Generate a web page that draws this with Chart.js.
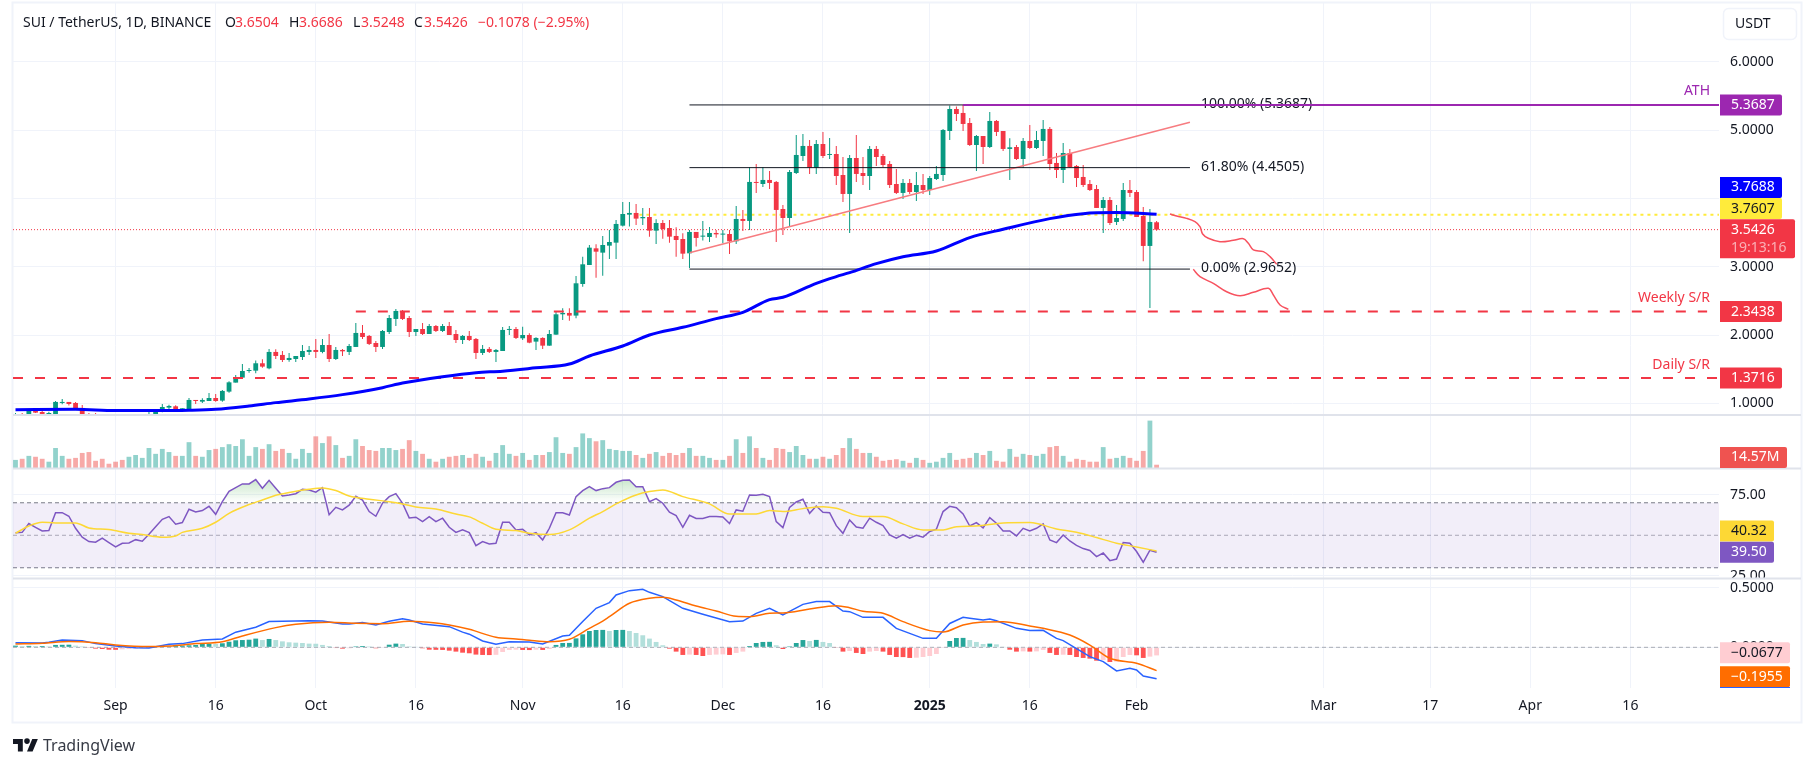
<!DOCTYPE html>
<html>
<head>
<meta charset="utf-8">
<title>SUI / TetherUS</title>
<script src="https://cdn.jsdelivr.net/npm/chart.js@4"></script>
<style>
  html, body { margin: 0; background: #fff; }
  canvas { display: block; }
</style>
</head>
<body>
<canvas id="chart" width="1814" height="767"></canvas>
<script>
// Days are counted from 1 Sep 2024 (day 0). First candle is day -15, one candle per day.
const firstDay = -15;

const opens = [
  0.80,0.82,0.82,0.907,0.873,0.83,0.82,1.005,1.02,1.005,
  0.932,0.82,0.82,0.79,0.77,0.76,0.75,0.74,0.76,0.78,
  0.82,0.83,0.873,0.937,0.956,0.907,0.912,1.049,1.024,1.034,
  1.078,1.039,1.171,1.303,1.376,1.473,1.478,1.586,1.512,1.752,
  1.708,1.634,1.649,1.678,1.752,1.781,1.752,1.854,1.649,1.781,
  1.752,1.825,2.03,1.986,1.883,1.825,2.044,2.235,2.352,2.249,
  2.044,2.088,2.015,2.132,2.059,2.132,2.015,1.927,1.986,1.942,
  1.737,1.796,1.752,1.766,2.074,2.088,1.952,2.0,1.903,1.957,
  1.844,2.005,2.303,2.323,2.284,2.747,3.025,3.269,3.206,3.308,
  3.352,3.601,3.762,3.787,3.709,3.728,3.528,3.64,3.567,3.45,
  3.406,3.196,3.509,3.44,3.435,3.494,3.47,3.479,3.372,3.699,
  3.67,4.241,4.211,4.27,4.241,3.845,3.713,4.372,4.621,4.768,
  4.45,4.797,4.636,4.65,4.343,4.065,4.592,4.372,4.328,4.724,
  4.621,4.504,4.211,4.08,4.226,4.094,4.196,4.123,4.284,4.343,
  4.987,5.309,5.251,5.104,4.782,4.914,4.753,5.134,4.987,4.724,
  4.753,4.577,4.841,4.738,4.841,5.017,4.519,4.416,4.665,4.475,
  4.314,4.211,4.138,3.86,3.977,3.655,3.699,4.123,4.094,3.743,
  3.304,3.6504
];
const highs = [
  0.858,0.858,0.917,0.932,0.893,0.878,1.034,1.063,1.02,1.02,
  0.976,0.858,0.858,0.81,0.80,0.79,0.79,0.78,0.80,0.81,
  0.888,0.917,0.99,0.98,0.971,0.927,1.078,1.049,1.073,1.151,
  1.137,1.195,1.322,1.415,1.576,1.517,1.625,1.644,1.795,1.791,
  1.766,1.737,1.693,1.854,1.839,1.942,1.942,2.015,1.825,1.796,
  1.869,2.176,2.147,2.0,1.913,2.074,2.293,2.381,2.367,2.279,
  2.088,2.176,2.161,2.147,2.161,2.191,2.074,2.0,2.059,1.957,
  1.854,1.825,1.796,2.118,2.132,2.118,2.122,2.025,1.966,1.966,
  2.074,2.342,2.391,2.391,2.864,3.147,3.318,3.328,3.45,3.538,
  3.684,3.948,3.948,3.918,3.86,3.86,3.694,3.684,3.684,3.577,
  3.489,3.538,3.509,3.67,3.582,3.538,3.538,3.538,3.889,3.831,
  4.455,4.504,4.46,4.402,4.255,3.904,4.416,4.929,4.943,4.856,
  4.856,4.973,4.885,4.768,4.606,4.636,4.929,4.606,4.768,4.768,
  4.65,4.548,4.431,4.284,4.284,4.387,4.358,4.328,4.475,5.017,
  5.36,5.344,5.3687,5.178,4.929,4.914,5.265,5.148,4.987,4.88,
  4.782,4.885,5.075,4.987,5.148,5.046,4.665,4.811,4.724,4.489,
  4.489,4.27,4.196,4.021,4.021,3.904,4.226,4.27,4.123,3.875,
  3.845,3.6686
];
const lows = [
  0.79,0.79,0.80,0.858,0.83,0.82,0.81,0.985,0.966,0.912,
  0.80,0.79,0.78,0.75,0.74,0.73,0.72,0.72,0.74,0.75,
  0.81,0.81,0.868,0.917,0.902,0.873,0.907,0.99,1.005,1.034,
  1.024,1.024,1.156,1.303,1.376,1.449,1.439,1.522,1.498,1.649,
  1.605,1.61,1.605,1.634,1.708,1.664,1.732,1.605,1.634,1.693,
  1.708,1.825,1.942,1.854,1.752,1.796,2.015,2.132,2.22,1.971,
  1.986,2.0,2.015,2.044,2.044,2.0,1.883,1.869,1.913,1.649,
  1.708,1.737,1.605,1.766,2.0,1.942,1.927,1.878,1.781,1.796,
  1.844,2.005,2.22,2.21,2.245,2.708,3.025,2.84,2.869,3.113,
  3.113,3.587,3.587,3.611,3.611,3.44,3.333,3.411,3.352,3.147,
  3.113,2.981,3.294,3.382,3.362,3.425,3.343,3.186,3.333,3.523,
  3.538,4.08,4.167,4.138,3.362,3.465,3.582,4.358,4.548,4.358,
  4.358,4.592,4.577,4.196,3.948,3.494,4.241,4.196,4.123,4.475,
  4.46,4.152,4.065,3.992,4.065,3.962,4.065,4.05,4.27,4.255,
  4.855,5.134,4.987,4.768,4.402,4.504,4.738,4.914,4.694,4.27,
  4.563,4.445,4.724,4.724,4.621,4.416,4.299,4.226,4.445,4.167,
  4.167,4.108,3.86,3.494,3.611,3.611,3.67,4.021,3.728,3.079,
  2.396,3.5248
];
const closes = [
  0.81,0.80,0.898,0.863,0.844,0.858,1.02,1.02,0.99,0.917,
  0.82,0.80,0.79,0.77,0.76,0.75,0.74,0.76,0.78,0.79,
  0.84,0.893,0.946,0.961,0.902,0.927,1.049,1.034,1.049,1.078,
  1.034,1.181,1.307,1.381,1.473,1.488,1.586,1.537,1.752,1.693,
  1.634,1.664,1.693,1.766,1.781,1.752,1.854,1.649,1.781,1.761,
  1.839,2.03,1.971,1.869,1.825,2.059,2.249,2.352,2.235,2.044,
  2.088,2.015,2.132,2.059,2.132,2.0,1.927,1.986,1.927,1.737,
  1.796,1.752,1.781,2.074,2.088,1.957,2.0,1.888,1.957,1.844,
  2.015,2.303,2.323,2.284,2.757,3.035,3.279,3.22,3.318,3.362,
  3.626,3.772,3.787,3.704,3.728,3.528,3.64,3.552,3.44,3.391,
  3.191,3.509,3.421,3.455,3.494,3.474,3.479,3.372,3.699,3.67,
  4.241,4.226,4.27,4.226,3.831,3.713,4.387,4.636,4.768,4.45,
  4.797,4.621,4.65,4.328,4.065,4.592,4.358,4.328,4.724,4.606,
  4.489,4.196,4.08,4.226,4.094,4.196,4.123,4.299,4.358,5.002,
  5.309,5.236,5.09,4.782,4.914,4.753,5.134,4.973,4.724,4.748,
  4.577,4.841,4.738,4.855,5.017,4.504,4.416,4.665,4.46,4.299,
  4.196,4.123,3.86,3.977,3.64,3.713,4.123,4.08,3.728,3.304,
  3.655,3.5426
];
// volume in millions
const volumes = [
  36,41,54,50,41,28,89,54,41,45,67,71,32,41,19,28,36,50,58,45,
  89,63,85,71,54,54,115,54,50,80,85,93,106,98,128,54,93,85,106,76,
  85,67,41,85,67,141,111,141,102,45,54,128,98,80,76,89,89,80,85,124,
  76,63,41,28,41,50,54,58,45,63,50,32,67,102,63,54,67,36,58,58,
  71,137,67,63,93,154,133,119,124,85,80,76,76,58,45,63,71,54,67,58,
  67,89,54,54,45,36,36,54,128,67,141,89,45,36,89,85,71,98,58,41,
  41,50,41,58,89,133,85,67,67,50,32,36,39,32,23,45,36,23,28,45,
  67,36,41,45,67,58,76,32,28,85,50,63,58,54,63,93,98,54,28,41,
  36,28,28,93,41,45,54,45,32,76,211,14.57
];
const rsiValues = [
  51.6,51.8,57.2,54.9,52.7,52.9,63.9,63.9,61.7,54.3,48.8,46.1,45.7,48.2,45.5,42.8,45.1,45.3,47.3,46.3,
  50.6,55.3,59.8,61.5,56.8,57.8,66,64.4,65.2,67.8,62.9,70.7,77.1,79.3,81.6,81.6,84.3,78.9,83.8,78.9,
  74.2,74.8,75.6,78.3,77.9,76.5,79.3,62.7,67.2,65.6,68.5,74,71.7,64.6,61.7,69.7,73.8,75.6,69.7,60.7,
  61.1,58.4,61.5,58.4,60.5,54.9,51.8,53.3,51.6,43.6,46.1,44.7,45.1,58,58,53.3,53.7,50.2,51.6,47.1,
  54.3,63.9,63.9,62.5,73.8,77.5,79.9,77.5,78.7,79.3,82.6,83.8,84,79.9,79.9,70.7,72.6,69.7,64.2,62.1,
  54.9,62.3,60.3,60.3,61.5,61.5,61.3,57.2,65.6,64.8,74.8,74.6,75.2,73.8,58.4,54.7,67.2,70.5,72.2,63.5,
  68,64.2,63.9,55.9,51.2,59.4,55.1,54.3,60.5,58,55.9,50.2,48.2,50.4,48.2,50,48.8,52.3,53.7,64.6,
  67.8,67,63.1,55.7,57.8,54.5,60.9,57.4,52.7,52.7,49.6,54.3,52.7,54.3,57,47.1,45.5,50.2,46.5,43.8,
  41.8,40.6,36.9,39.1,34.4,35.4,45.5,45.1,40,33.4,40.8,39.5
];
const macdHist = [
  0.014,0.011,0.012,0.011,0.011,0.008,0.02,0.021,0.022,0.014,0.008,-0.003,-0.011,-0.014,-0.02,-0.021,-0.017,-0.014,-0.011,-0.008,
  -0.006,-0.003,0.006,0.008,0.011,0.014,0.017,0.02,0.028,0.031,0.028,0.034,0.047,0.059,0.061,0.064,0.073,0.061,0.07,0.061,
  0.05,0.042,0.039,0.036,0.031,0.03,0.02,0.011,-0.006,-0.011,-0.008,0.008,0.011,0.008,-0.008,-0.003,0.022,0.031,0.028,0.008,
  0.003,-0.008,-0.02,-0.021,-0.022,-0.028,-0.036,-0.045,-0.05,-0.061,-0.064,-0.065,-0.063,-0.039,-0.022,-0.02,-0.022,-0.023,-0.02,-0.022,
  -0.014,0.02,0.036,0.037,0.075,0.109,0.137,0.145,0.146,0.137,0.145,0.146,0.137,0.12,0.101,0.073,0.045,0.017,-0.011,-0.036,
  -0.064,-0.061,-0.064,-0.073,-0.064,-0.061,-0.059,-0.064,-0.047,-0.036,0.011,0.036,0.045,0.046,0.017,-0.014,0.008,0.036,0.061,0.053,
  0.062,0.045,0.036,-0.003,-0.036,-0.031,-0.047,-0.056,-0.036,-0.031,-0.036,-0.064,-0.081,-0.082,-0.089,-0.087,-0.081,-0.073,-0.056,-0.002,
  0.053,0.078,0.079,0.061,0.045,0.028,0.031,0.025,0.003,-0.02,-0.036,-0.034,-0.036,-0.034,-0.022,-0.047,-0.064,-0.062,-0.064,-0.081,
  -0.089,-0.095,-0.112,-0.106,-0.123,-0.12,-0.081,-0.064,-0.067,-0.089,-0.078,-0.0677
];

const maDays = [-15,-6,0,6,11,15,20,24,29,34,40,43,49,54,58,63,68,71,76,80,85,90,94,98,100,105,108,110,114,118,123,128,133,140,145,150,156];
const maValues = [0.907,0.912,0.893,0.893,0.898,0.912,0.961,1.01,1.063,1.127,1.229,1.297,1.39,1.449,1.47,1.52,1.575,1.693,1.839,2.0,2.113,2.24,2.332,2.518,2.552,2.757,2.855,2.913,3.045,3.147,3.23,3.426,3.548,3.704,3.777,3.792,3.7688];
const rsiMaDays = [-15,-13,-11,-9,-6,-4,-1,2,4,7,9,10,13,15,17,20,22,24,26,29,31,33,35,38,41,43,45,48,51,53,55,57,60,62,65,68,71,73,75,78,80,82,85,89,92,96,98,100,103,106,108,112,115,118,121,124,126,129,133,137,141,144,147,150,153,156];
const rsiMaValues = [51.2,55.7,58,57.6,57.6,54.5,53.5,51.2,50.4,48.8,49.6,51.8,54.3,58,63.5,68.9,71.7,74.6,76.3,78.3,79.1,77.5,74.2,72.2,70.7,69.3,67.4,66.2,63.1,61.3,57.4,53.7,52.9,51.2,50.4,53.3,60.5,64.6,69.3,74.8,76.9,77.9,73.8,69.3,63.1,63.1,65.2,64.6,66.4,67.6,66.6,61.5,61.5,57,53.3,53.3,55.3,55.7,57.6,57.8,53.9,51.8,48.6,45.1,42.8,40.32];
const macdDays = [-15,-11,-10,-8,-5,-3,0,3,5,8,10,13,16,18,21,23,25,29,31,34,35,37,39,41,43,44,46,50,52,53,55,57,59,62,64,67,68,70,72,74,75,77,79,80,82,85,88,92,94,96,98,100,103,105,107,109,110,112,115,117,119,121,123,125,127,128,130,131,132,135,137,139,141,142,146,148,150,152,153,154,156];
const macdLine = [0.039,0.036,0.042,0.061,0.056,0.031,0.011,-0.003,-0.006,0.025,0.031,0.061,0.07,0.127,0.168,0.216,0.218,0.223,0.22,0.196,0.196,0.207,0.187,0.218,0.24,0.229,0.196,0.173,0.127,0.11,0.053,0.025,0.047,0.045,0.028,0.095,0.101,0.216,0.327,0.375,0.439,0.475,0.486,0.461,0.425,0.327,0.277,0.215,0.22,0.285,0.327,0.271,0.36,0.383,0.383,0.304,0.299,0.251,0.251,0.159,0.117,0.075,0.075,0.2,0.251,0.243,0.229,0.237,0.223,0.159,0.14,0.142,0.075,0.056,-0.078,-0.12,-0.198,-0.176,-0.19,-0.24,-0.2632];
const signalDays = [-15,-11,-7,-3,0,5,8,12,16,19,24,27,32,36,40,44,48,50,53,57,60,62,65,68,71,73,74,77,80,82,84,87,90,93,95,98,100,104,108,110,112,115,118,122,124,127,130,133,137,139,143,146,149,153,156];
const signalLine = [0.028,0.034,0.048,0.039,0.02,0.006,0.011,0.031,0.047,0.095,0.165,0.193,0.21,0.201,0.198,0.218,0.204,0.187,0.151,0.084,0.07,0.059,0.047,0.067,0.159,0.22,0.257,0.369,0.411,0.419,0.397,0.346,0.305,0.26,0.257,0.285,0.288,0.321,0.349,0.332,0.302,0.285,0.215,0.14,0.128,0.187,0.212,0.215,0.179,0.159,0.103,0.019,-0.092,-0.134,-0.1955];

// hand drawn arrows on the price pane
const arrowOneDays = [158,159,160.5,161.75,162.5,162.9,163.75,165.5,167.5,169,169.75,170.5,172,173,174];
const arrowOnePrices = [3.772,3.742,3.708,3.659,3.586,3.479,3.416,3.366,3.386,3.41,3.342,3.245,3.22,3.147,3.035];
const arrowTwoDays = [161.5,162.5,164.5,166.5,168.5,170.5,172.75,173.5,174.5,175.75];
const arrowTwoPrices = [2.962,2.854,2.757,2.634,2.575,2.625,2.684,2.586,2.439,2.376];

const priceTicks = [1, 2, 3, 4, 5, 6];
const rsiTicks = [25, 75];
const macdTicks = [0, 0.5];
const timeTickDays = [0, 15, 30, 45, 61, 76, 91, 106, 122, 137, 153, 181, 197, 212, 227];
const timeTickLabels = ['Sep', '16', 'Oct', '16', 'Nov', '16', 'Dec', '16', '2025', '16', 'Feb', 'Mar', '17', 'Apr', '16'];

const fibLevels = [5.3687, 4.4505, 2.9652];
const fibLabels = ['100.00% (5.3687)', '61.80% (4.4505)', '0.00% (2.9652)'];
const trendDays = [86, 161];
const trendPrices = [3.205, 5.114];
const athLevel = 5.3687;
const weeklyLevel = 2.3438;
const dailyLevel = 1.3716;
const yellowLevel = 3.7607;
const lastPrice = 3.5426;

const FONT = '"Noto Sans", sans-serif';
const TEXT = '#131722';
const GRID = '#f0f3fa';
const UP = '#089981';
const DOWN = '#f23645';
const xMin = -15.375;
const xMax = 240.28;

const days = opens.map((_, i) => firstDay + i);
const isUp = days.map((_, i) => closes[i] >= opens[i]);
const pairs = (xs, ys) => xs.map((x, i) => ({ x, y: ys[i] }));
const hline = (from, to, y) => [{ x: from, y }, { x: to, y }];

const histColors = macdHist.map((v, i) => {
  const prev = i ? macdHist[i - 1] : 0;
  if (v >= 0) return v >= prev ? '#26a69a' : '#b2dfdb';
  return v <= prev ? '#ff5252' : '#ffcdd2';
});

function lineSet(data, yAxisID, color, width, order, extra) {
  return Object.assign({
    type: 'line', data, yAxisID, borderColor: color, borderWidth: width, order,
    pointRadius: 0, fill: false, tension: 0,
  }, extra);
}

const datasets = [
  // price pane
  { type: 'bar', yAxisID: 'y', order: 6, grouped: false, maxBarThickness: 1, minBarLength: 1,
    data: days.map((x, i) => ({ x, y: [lows[i], highs[i]] })),
    backgroundColor: isUp.map((u) => (u ? UP : DOWN)) },
  { type: 'bar', yAxisID: 'y', order: 5, grouped: false, maxBarThickness: 5, minBarLength: 1,
    data: days.map((x, i) => ({ x, y: [opens[i], closes[i]] })),
    backgroundColor: isUp.map((u) => (u ? UP : DOWN)) },
  lineSet(hline(xMin, xMax, lastPrice), 'y', DOWN, 1, 7, { borderDash: [1, 2] }),
  lineSet(hline(78.5, xMax, yellowLevel), 'y', '#ffeb3b', 2, 7, { borderDash: [3, 4] }),
  lineSet(hline(86, 161, fibLevels[0]), 'y', '#131722', 1, 4),
  lineSet(hline(86, 161, fibLevels[1]), 'y', '#131722', 1, 4),
  lineSet(hline(86, 161, fibLevels[2]), 'y', '#131722', 1, 4),
  lineSet(pairs(trendDays, trendPrices), 'y', '#f77c80', 1.5, 4),
  lineSet(hline(36, 238.5, weeklyLevel), 'y', DOWN, 2, 4, { borderDash: [10, 12] }),
  lineSet(hline(xMin, xMax, dailyLevel), 'y', DOWN, 2, 4, { borderDash: [10, 12] }),
  lineSet(pairs(maDays, maValues), 'y', '#0000ff', 3, 2, { cubicInterpolationMode: 'monotone' }),
  lineSet(hline(127, xMax, athLevel), 'y', '#9c27b0', 2, 1),
  lineSet(pairs(arrowOneDays, arrowOnePrices), 'y', '#f7525f', 1.5, 1, { tension: 0.35 }),
  lineSet(pairs(arrowTwoDays, arrowTwoPrices), 'y', '#f7525f', 1.5, 1, { tension: 0.35 }),

  // volume pane
  { type: 'bar', yAxisID: 'yVol', order: 5, grouped: false, maxBarThickness: 5,
    data: days.map((x, i) => ({ x, y: volumes[i] })),
    backgroundColor: isUp.map((u) => (u ? 'rgba(38,166,154,0.5)' : 'rgba(239,83,80,0.5)')) },

  // RSI pane
  lineSet(hline(xMin, xMax, 70), 'yRsi', '#787b86', 1, 6, {
    borderDash: [4, 3], fill: { target: { value: 30 }, above: 'rgba(126,87,194,0.1)', below: 'rgba(126,87,194,0.1)' } }),
  lineSet(hline(xMin, xMax, 50), 'yRsi', 'rgba(120,123,134,0.6)', 1, 6, { borderDash: [4, 3] }),
  lineSet(hline(xMin, xMax, 30), 'yRsi', '#787b86', 1, 6, { borderDash: [4, 3] }),
  lineSet(pairs(days, rsiValues), 'yRsi', '#7e57c2', 1.5, 2, {
    fill: { target: { value: 70 }, above: 'rgba(76,175,80,0.2)', below: 'rgba(0,0,0,0)' } }),
  lineSet(pairs(rsiMaDays, rsiMaValues), 'yRsi', '#fdd835', 1.5, 1, { cubicInterpolationMode: 'monotone' }),

  // MACD pane
  { type: 'bar', yAxisID: 'yMacd', order: 5, grouped: false, maxBarThickness: 5,
    data: days.map((x, i) => ({ x, y: macdHist[i] })),
    backgroundColor: histColors },
  lineSet(hline(xMin, xMax, 0), 'yMacd', 'rgba(120,123,134,0.6)', 1, 6, { borderDash: [4, 3] }),
  lineSet(pairs(macdDays, macdLine), 'yMacd', '#2962ff', 1.5, 2),
  lineSet(pairs(signalDays, signalLine), 'yMacd', '#ff6d00', 1.5, 1, { cubicInterpolationMode: 'monotone' }),
];

// the layout must not reserve room for half a tick label at the pane edges
function noLabelPadding(scale) {
  scale.paddingTop = 0;
  scale.paddingBottom = 0;
  scale.paddingLeft = 0;
  scale.paddingRight = 0;
}

function paneAxis(min, max, weight, stackWeight, ticks, format, extraTicks) {
  return {
    position: 'right', stack: 'panes', stackWeight, weight, min, max,
    border: { display: false },
    grid: { color: ticks.length ? GRID : 'transparent', drawTicks: false, lineWidth: 1 },
    ticks: Object.assign({
      display: ticks.length > 0, padding: 11, color: TEXT, autoSkip: false,
      font: { family: FONT, size: 14 }, callback: format,
    }, extraTicks),
    afterBuildTicks(scale) { scale.ticks = ticks.map((value) => ({ value })); },
    afterFit(scale) { scale.width = 95; noLabelPadding(scale); },
  };
}

function text(ctx, str, x, y, color, size, align) {
  ctx.fillStyle = color;
  ctx.font = (size || 14) + 'px ' + FONT;
  ctx.textAlign = align || 'left';
  ctx.textBaseline = 'middle';
  ctx.fillText(str, x, y);
}

// value tags on the right axis: [scale, value, label, bg, fg, width, shift]
const axisTags = [
  ['y', 5.3687, '5.3687', '#9c27b0', '#fff', 62, 0],
  ['y', 3.7688, '3.7688', '#0000ff', '#fff', 62, -26.7],
  ['y', 3.7607, '3.7607', '#ffeb3b', TEXT, 62, -6.2],
  ['y', 2.3438, '2.3438', DOWN, '#fff', 62, 0],
  ['y', 1.3716, '1.3716', DOWN, '#fff', 62, 0],
  ['yVol', 0, '14.57M', '#ef5350', '#fff', 67, -10.5],
  ['yRsi', 40.32, '40.32', '#fdd835', TEXT, 54, -20],
  ['yRsi', 39.5, '39.50', '#7e57c2', '#fff', 54, -0.2],
  ['yMacd', -0.0677, '\u22120.0677', '#ffcdd2', TEXT, 70, -2.6],
  ['yMacd', -0.1955, '\u22120.1955', '#ff6d00', '#fff', 70, 6],
];

const decorations = {
  id: 'decorations',
  beforeDraw(chart) {
    const { ctx } = chart;
    ctx.save();
    ctx.strokeStyle = GRID;
    ctx.lineWidth = 2;
    ctx.strokeRect(12.5, 2.5, 1789, 720);
    ctx.restore();
  },
  beforeDatasetsDraw(chart) {
    const { ctx, scales } = chart;
    ctx.save();
    fibLabels.forEach((label, i) => {
      text(ctx, label, 1201, scales.y.getPixelForValue(fibLevels[i]) - 1, TEXT, 14);
    });
    ctx.restore();
  },
  afterDatasetsDraw(chart) {
    const { ctx } = chart;
    ctx.save();
    // the RSI axis labels stop at the pane border
    ctx.fillStyle = '#fff';
    ctx.fillRect(1720, 579, 80, 8);
    ctx.fillStyle = '#e0e3eb';
    [415, 468.5, 578.5].forEach((y) => ctx.fillRect(13, y - 1, 1788, 2));
    ctx.restore();
  },
  afterDraw(chart) {
    const { ctx, scales } = chart;
    ctx.save();

    text(ctx, 'SUI / TetherUS, 1D, BINANCE', 23, 23, TEXT, 14);
    [['O', 225, TEXT], ['3.6504', 235, DOWN], ['H', 289, TEXT], ['3.6686', 299, DOWN],
     ['L', 353, TEXT], ['3.5248', 361, DOWN], ['C', 414, TEXT], ['3.5426', 424, DOWN],
     ['\u22120.1078 (\u22122.95%)', 478, DOWN]].forEach(([s, x, c]) => text(ctx, s, x, 23, c, 14));

    text(ctx, 'ATH', 1710, 91, '#9c27b0', 14, 'right');
    text(ctx, 'Weekly S/R', 1710, 298, DOWN, 14, 'right');
    text(ctx, 'Daily S/R', 1710, 365, DOWN, 14, 'right');

    ctx.strokeStyle = GRID;
    ctx.lineWidth = 1.5;
    ctx.beginPath();
    ctx.roundRect(1723.5, 8.5, 73, 31, 5);
    ctx.stroke();
    text(ctx, 'USDT', 1735, 24, TEXT, 14);

    axisTags.forEach(([axis, value, label, bg, fg, width, shift]) => {
      const mid = scales[axis].getPixelForValue(value) + shift;
      ctx.fillStyle = bg;
      ctx.beginPath();
      ctx.roundRect(1720, mid - 10.5, width, 21, [0, 2, 2, 0]);
      ctx.fill();
      text(ctx, label, 1731, mid, fg, 14);
    });

    // blue MACD tag just shows under the orange one
    ctx.fillStyle = '#2962ff';
    ctx.fillRect(1720, 687, 70, 1);

    const lastY = scales.y.getPixelForValue(lastPrice);
    ctx.fillStyle = DOWN;
    ctx.beginPath();
    ctx.roundRect(1720, lastY - 10.5, 75, 39, [0, 2, 2, 0]);
    ctx.fill();
    text(ctx, '3.5426', 1731, lastY, '#fff', 14);
    text(ctx, '19:13:16', 1731, lastY + 18.5, 'rgba(255,255,255,0.6)', 14);

    // TradingView mark
    ctx.save();
    ctx.translate(13, 736.2);
    ctx.scale(0.7, 0.7);
    ctx.fillStyle = '#131722';
    ctx.fill(new Path2D('M14 22H7V11H0V4h14v18zM28 22h-8l7.5-18h8L28 22z'));
    ctx.beginPath();
    ctx.arc(20, 7, 4, 0, Math.PI * 2);
    ctx.fill();
    ctx.restore();
    text(ctx, 'TradingView', 43, 746, '#363a45', 16);

    ctx.restore();
  },
};

const overboughtFade = {
  id: 'overboughtFade',
  afterLayout(chart) {
    const scale = chart.scales.yRsi;
    const grad = chart.ctx.createLinearGradient(0, scale.getPixelForValue(86), 0, scale.getPixelForValue(70));
    grad.addColorStop(0, 'rgba(76,175,80,0.32)');
    grad.addColorStop(1, 'rgba(76,175,80,0)');
    chart.data.datasets.forEach((ds) => {
      if (ds.yAxisID === 'yRsi' && ds.fill && ds.fill.target && ds.fill.target.value === 70) ds.fill.above = grad;
    });
  },
};

new Chart(document.getElementById('chart').getContext('2d'), {
  type: 'bar',
  data: { datasets },
  plugins: [overboughtFade, decorations],
  options: {
    responsive: false,
    animation: false,
    devicePixelRatio: 1,
    layout: { autoPadding: false, padding: { left: 13, top: 3, right: 0, bottom: 0 } },
    plugins: { legend: { display: false }, tooltip: { enabled: false } },
    scales: {
      x: {
        type: 'linear', min: xMin, max: xMax, offset: false,
        border: { display: false },
        grid: { color: GRID, drawTicks: false, lineWidth: 1, offset: false },
        ticks: {
          color: TEXT, autoSkip: false, maxRotation: 0, padding: 10,
          font: (c) => ({ family: FONT, size: 14, weight: timeTickLabels[c.index] === '2025' ? 'bold' : 'normal' }),
          callback: (value, i) => timeTickLabels[i],
        },
        afterBuildTicks(scale) { scale.ticks = timeTickDays.map((value) => ({ value })); },
        afterFit(scale) { scale.height = 79; noLabelPadding(scale); },
      },
      y: paneAxis(0.8287, 6.861, 1, 412, priceTicks, (v) => v.toFixed(4)),
      yVol: paneAxis(0, 236, 2, 53, [], () => ''),
      yRsi: paneAxis(23.7, 91.4, 3, 110, rsiTicks, (v) => v.toFixed(2)),
      yMacd: paneAxis(-0.341, 0.581, 4, 110, macdTicks, (v) => v.toFixed(4), { z: 1 }),
    },
  },
});
</script>
</body>
</html>
